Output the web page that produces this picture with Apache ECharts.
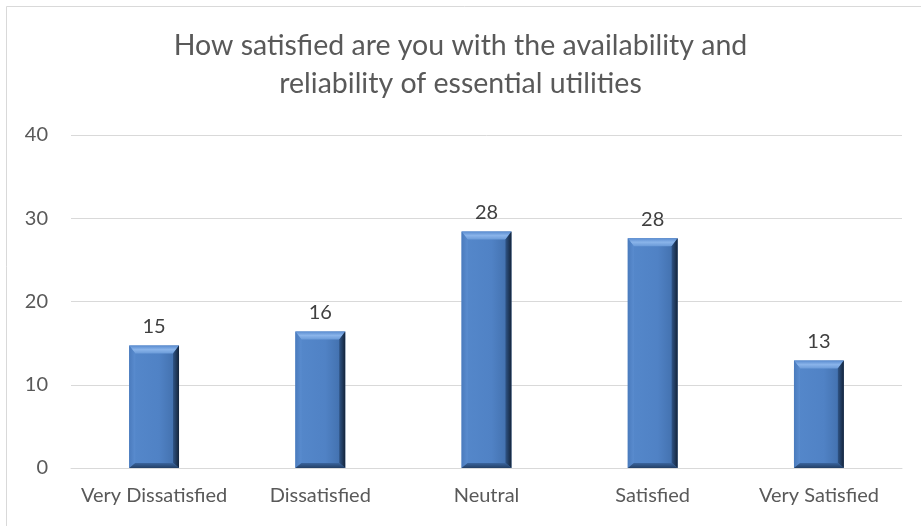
<!DOCTYPE html>
<html><head><meta charset="utf-8">
<script src="https://cdn.jsdelivr.net/npm/echarts@6/dist/echarts.min.js"></script>
<style>html,body{margin:0;padding:0;background:#fff}#c{width:921px;height:526px}</style>
</head><body><div id="c"></div>
<script>
const categories = ['Very Dissatisfied', 'Dissatisfied', 'Neutral', 'Satisfied', 'Very Satisfied'];
const values = [14.7, 16.4, 28.4, 27.6, 12.9];
const labels = ['15', '16', '28', '28', '13'];
const yTicks = [0, 10, 20, 30, 40];
const titleText = 'How satisfied are you with the availability and\nreliability of essential utilities';

const FONT = 'Lato, "Open Sans", sans-serif';
const chart = echarts.init(document.getElementById('c'));

function renderBar(params, api) {
  const i = api.value(0), v = api.value(1);
  const top = api.coord([i, v]);
  const base = api.coord([i, 0]);
  const w = api.size([1, 0])[0] * 0.30;
  const x0 = top[0] - w / 2, x1 = top[0] + w / 2;
  const y0 = top[1], y1 = base[1];
  const b = 8, bb = 5, bs = 6;
  return {
    type: 'group',
    children: [
      { type: 'rect', shape: { x: x0, y: y0, width: w, height: y1 - y0 },
        style: { fill: new echarts.graphic.LinearGradient(0, 0, 1, 0, [
          { offset: 0, color: '#5588cb' }, { offset: 0.6, color: '#5082c5' }, { offset: 1, color: '#3f6ca8' }]) } },
      { type: 'polygon', shape: { points: [[x0, y0], [x1, y0], [x1 - bs, y0 + b], [x0 + bs, y0 + b]] },
        style: { fill: new echarts.graphic.LinearGradient(0, 0, 0, 1, [
          { offset: 0, color: '#5a8cd0' }, { offset: 0.5, color: '#8ab4ea' }, { offset: 1, color: '#6a9ad8' }]) } },
      { type: 'polygon', shape: { points: [[x1, y0], [x1, y1], [x1 - bs, y1 - bb], [x1 - bs, y0 + b]] },
        style: { fill: new echarts.graphic.LinearGradient(0, 0, 1, 0, [
          { offset: 0, color: '#2f5486' }, { offset: 1, color: '#14243a' }]) } },
      { type: 'polygon', shape: { points: [[x0, y0], [x0 + bs, y0 + b], [x0 + bs, y1 - bb], [x0, y1]] },
        style: { fill: new echarts.graphic.LinearGradient(0, 0, 1, 0, [
          { offset: 0, color: '#4a7bbd' }, { offset: 1, color: '#5a8ccf' }]) } },
      { type: 'polygon', shape: { points: [[x0, y1], [x0 + bs, y1 - bb], [x1 - bs, y1 - bb], [x1, y1]] },
        style: { fill: new echarts.graphic.LinearGradient(0, 0, 0, 1, [
          { offset: 0, color: '#3a659e' }, { offset: 1, color: '#233f66' }]) } },
      { type: 'text', x: top[0], y: y0 - 9,
        style: { text: labels[i], fill: '#404040', font: '20px ' + FONT, align: 'center', verticalAlign: 'bottom' } }
    ]
  };
}

chart.setOption({
  animation: false,
  backgroundColor: '#fff',
  graphic: [{ type: 'rect', left: 4, top: 4, shape: { width: 940, height: 540 },
    style: { fill: 'none', stroke: '#d9d9d9', lineWidth: 1 }, silent: true }],
  title: {
    text: titleText, left: 'center', top: 22,
    textStyle: { fontFamily: FONT, fontSize: 28.5, fontWeight: 'normal', color: '#595959', lineHeight: 38 }
  },
  grid: { left: 71, right: 19, top: 135, bottom: 58 },
  xAxis: {
    type: 'category', data: categories,
    axisLine: { lineStyle: { color: '#d9d9d9', width: 1 } },
    axisTick: { show: false },
    axisLabel: { color: '#595959', fontFamily: FONT, fontSize: 20, margin: 18, interval: 0, hideOverlap: false }
  },
  yAxis: {
    type: 'value', min: yTicks[0], max: yTicks[yTicks.length - 1], interval: 10,
    axisLine: { show: false }, axisTick: { show: false },
    splitLine: { lineStyle: { color: '#d9d9d9', width: 1 } },
    axisLabel: { color: '#595959', fontFamily: FONT, fontSize: 20, margin: 23 }
  },
  series: [{
    type: 'custom',
    renderItem: renderBar,
    encode: { x: 0, y: 1 },
    data: values.map((v, i) => [i, v])
  }]
});
</script></body></html>
